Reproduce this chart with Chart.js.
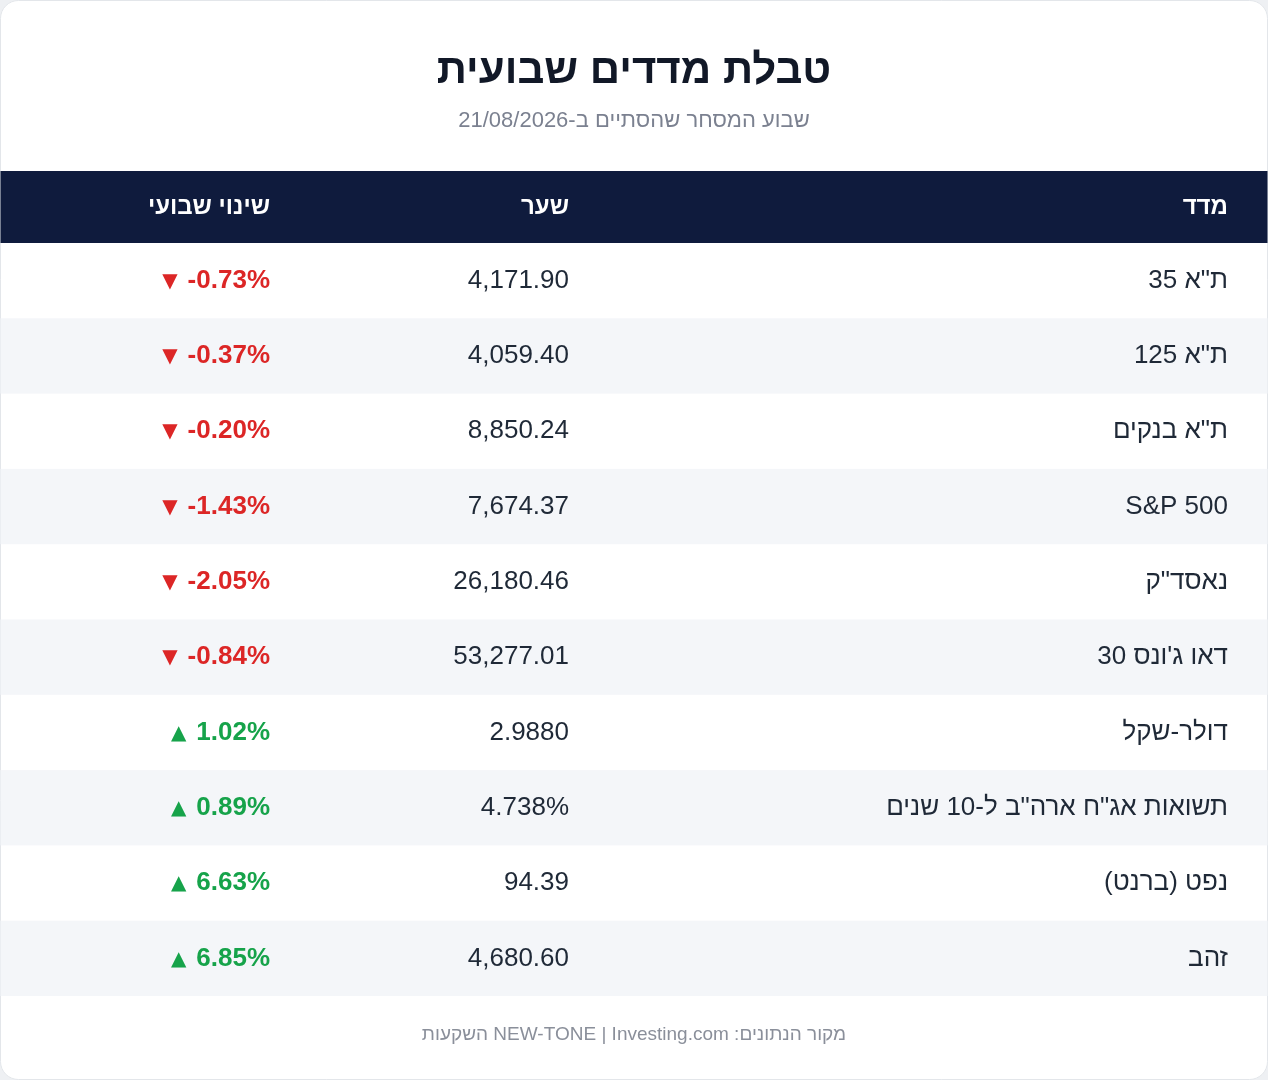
<!DOCTYPE html>
<html>
<head>
<meta charset="utf-8">
<script src="https://cdn.jsdelivr.net/npm/chart.js@4"></script>
<style>
  html, body { margin: 0; padding: 0; background: #eef0f3; }
  #wrap { width: 1268px; height: 1080px; position: relative; }
</style>
</head>
<body>
<div id="wrap"><canvas id="table"></canvas></div>
<script>
const title = `טבלת מדדים שבועית`;
const subtitle = `שבוע המסחר שהסתיים ב-21/08/2026`;
const footer = `מקור הנתונים: NEW-TONE | Investing.com השקעות`;
const headers = [`מדד`, `שער`, `שינוי שבועי`];

const indexNames = [`ת"א 35`, `ת"א 125`, `ת"א בנקים`, `S&P 500`, `נאסד"ק`, `דאו ג'ונס 30`,
  `דולר-שקל`, `תשואות אג"ח ארה"ב ל-10 שנים`, `נפט (ברנט)`, `זהב`];
const prices = [`4,171.90`, `4,059.40`, `8,850.24`, `7,674.37`, `26,180.46`, `53,277.01`,
  `2.9880`, `4.738%`, `94.39`, `4,680.60`];
const weeklyChange = [-0.73, -0.37, -0.20, -1.43, -2.05, -0.84, 1.02, 0.89, 6.63, 6.85];

const FONT = `"Liberation Sans", Arial, "DejaVu Sans", sans-serif`;
const COL_NAME = 1228;
const COL_PRICE = 569;
const COL_CHANGE = 270;
const HEADER_H = 72;

const tablePlugin = {
  id: `tableCells`,
  beforeDraw(chart) {
    const {ctx, width, height, chartArea, scales} = chart;
    const y = scales.y;
    ctx.save();
    // card
    ctx.fillStyle = `#ffffff`;
    ctx.strokeStyle = `#e3e6ea`;
    ctx.lineWidth = 1;
    ctx.beginPath();
    ctx.roundRect(0.5, 0.5, width - 1, height - 1, 18);
    ctx.fill();
    ctx.stroke();
    ctx.clip();

    // title
    ctx.direction = `rtl`;
    ctx.textAlign = `center`;
    ctx.textBaseline = `middle`;
    ctx.fillStyle = `#111827`;
    ctx.font = `bold 42px ${FONT}`;
    ctx.fillText(title, width / 2, 71);
    ctx.fillStyle = `#7b8190`;
    ctx.font = `22px ${FONT}`;
    ctx.fillText(subtitle, width / 2, 121);

    // header
    const top = chartArea.top;
    ctx.fillStyle = `#0f1b3d`;
    ctx.fillRect(0, top - HEADER_H, width, HEADER_H);
    ctx.fillStyle = `#ffffff`;
    ctx.font = `bold 24px ${FONT}`;
    ctx.textAlign = `right`;
    const hy = top - HEADER_H / 2;
    ctx.direction = `rtl`;
    ctx.fillText(headers[0], COL_NAME, hy);
    ctx.fillText(headers[1], COL_PRICE, hy);
    ctx.fillText(headers[2], COL_CHANGE, hy);

    // rows
    const rowH = y.getPixelForValue(1) - y.getPixelForValue(0);
    indexNames.forEach((name, i) => {
      const cy = y.getPixelForValue(i);
      if (i % 2 === 1) {
        ctx.fillStyle = `#f4f6f9`;
        ctx.fillRect(0, cy - rowH / 2, width, rowH);
      }
      ctx.font = `26px ${FONT}`;
      ctx.fillStyle = `#1f2937`;
      ctx.textAlign = `right`;
      ctx.direction = `rtl`;
      ctx.fillText(name, COL_NAME, cy);
      ctx.direction = `ltr`;
      ctx.fillText(prices[i], COL_PRICE, cy);

      const v = weeklyChange[i];
      const up = v >= 0;
      const txt = (up ? `` : `-`) + Math.abs(v).toFixed(2) + `%`;
      ctx.fillStyle = up ? `#16a34a` : `#dc2626`;
      ctx.font = `bold 26px ${FONT}`;
      ctx.fillText(txt, COL_CHANGE, cy);
      const w = ctx.measureText(txt).width;
      ctx.font = `20px "DejaVu Sans", sans-serif`;
      ctx.fillText(up ? `▲` : `▼`, COL_CHANGE - w - 10, cy + 1);
    });

    // footer
    ctx.fillStyle = `#8a8f9a`;
    ctx.font = `19px ${FONT}`;
    ctx.textAlign = `center`;
    ctx.direction = `rtl`;
    ctx.fillText(footer, width / 2, 1035);
    ctx.restore();
  }
};

new Chart(document.getElementById(`table`), {
  type: `bar`,
  data: {
    labels: indexNames,
    datasets: [{data: weeklyChange.map(() => 0), backgroundColor: `rgba(0,0,0,0)`}]
  },
  options: {
    indexAxis: `y`,
    responsive: true,
    maintainAspectRatio: false,
    animation: false,
    layout: {padding: {top: 243, bottom: 84, left: 0, right: 0}},
    plugins: {legend: {display: false}, tooltip: {enabled: false}},
    scales: {
      x: {display: false, min: 0, max: 1},
      y: {display: false, grid: {display: false}}
    }
  },
  plugins: [tablePlugin]
});
</script>
</body>
</html>
